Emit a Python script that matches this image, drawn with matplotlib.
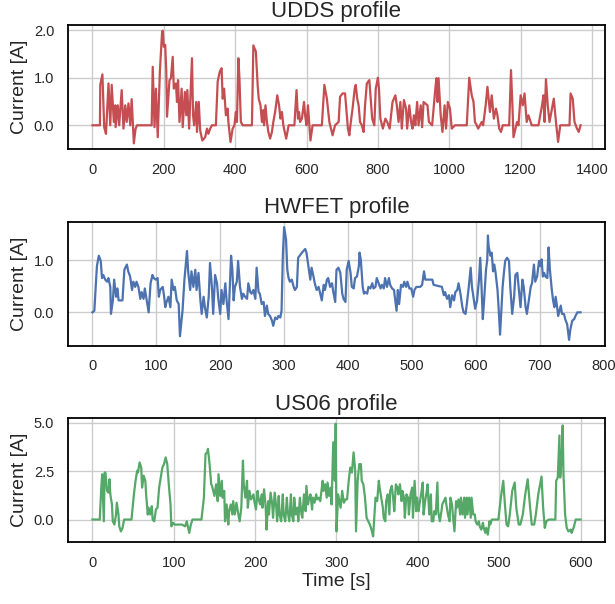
import matplotlib
matplotlib.use('Agg')
import matplotlib.pyplot as plt
from matplotlib.ticker import FormatStrFormatter, MultipleLocator

# UDDS profile: time [s] and current [A]
udds_t = [
    0, 21, 22, 28, 33, 38, 45, 50, 54, 60, 64, 65, 71, 75, 82, 87, 92, 96,
    101, 106, 110, 116, 121, 125, 166, 169, 174, 178, 183, 189, 195, 197,
    200, 204, 207, 209, 216, 220, 225, 228, 234, 237, 240, 244, 250, 253,
    259, 263, 266, 271, 279, 282, 285, 291, 293, 298, 302, 308, 316, 321,
    325, 330, 335, 346, 351, 357, 362, 365, 369, 374, 379, 381, 387, 393,
    398, 402, 405, 409, 412, 416, 421, 447, 451, 458, 463, 466, 471, 475,
    479, 481, 485, 489, 493, 498, 503, 507, 512, 518, 523, 527, 531, 535,
    543, 550, 566, 572, 576, 579, 582, 587, 593, 596, 600, 604, 611, 617,
    643, 650, 657, 664, 673, 680, 690, 694, 701, 708, 716, 720, 723, 729,
    735, 738, 742, 746, 750, 755, 760, 764, 769, 776, 780, 784, 790, 794,
    800, 803, 807, 814, 821, 826, 833, 841, 849, 853, 858, 863, 867, 873,
    879, 882, 888, 893, 897, 901, 905, 910, 914, 920, 924, 928, 939, 943,
    952, 961, 964, 967, 970, 976, 981, 987, 991, 996, 1002, 1007, 1016,
    1049, 1056, 1063, 1068, 1072, 1077, 1081, 1091, 1095, 1102, 1107, 1114,
    1119, 1125, 1131, 1135, 1140, 1145, 1150, 1168, 1173, 1177, 1180, 1190,
    1194, 1200, 1206, 1211, 1217, 1222, 1231, 1250, 1260, 1264, 1267, 1271,
    1276, 1281, 1288, 1293, 1299, 1305, 1311, 1337, 1340, 1346, 1351, 1358,
    1363, 1368,
]
udds_i = [
    0, 0, 0.85, 1.07, -0.04, -0.18, 0.88, 0.0, 0.85, 0.07, 0.42, -0.04, 0.42,
    0.0, 0.74, -0.07, 0.42, 0.07, 0.46, 0.0, 0.55, -0.38, -0.07, 0.0, 0.0,
    1.23, -0.04, 0.77, -0.25, 1.13, 1.94, 1.99, 1.65, 1.69, 1.13, 0.18, 0.95,
    0.99, 1.44, 0.77, 0.88, 0.49, 0.95, 0.07, 0.77, -0.04, 0.70, 0.21, 0.74,
    -0.07, 1.41, 0.21, 0.0, 0.49, -0.14, 0.49, -0.11, -0.32, -0.25, -0.07,
    -0.18, -0.07, 0.0, 0.0, 0.92, 1.13, 1.20, 0.56, 0.77, 0.21, 0.35, 0.07,
    -0.35, -0.07, 0.0, 0.28, 0.07, 1.41, 0.99, 0.07, 0.0, 0.0, 1.68, 1.55,
    0.85, 0.56, 0.42, 0.07, 0.32, 0.0, 0.42, 0.07, -0.14, -0.28, -0.14, 0.07,
    0.28, 0.63, 0.42, 0.14, 0.28, 0.0, -0.28, 0.0, 0.0, 0.74, 0.14, 0.28,
    0.07, 0.14, 0.49, 0.21, 0.0, 0.42, -0.32, 0.0, 0.0, 0.85, 0.56, 0.07,
    -0.21, 0.0, 0.07, 0.60, 0.67, 0.67, -0.07, -0.21, 0.0, 0.35, 0.77, 0.85,
    0.56, 0.42, 0.07, 0.0, -0.14, 0.42, 0.88, 0.95, 0.56, 0.14, 0.0, 0.77,
    1.0, 0.77, 0.14, -0.07, 0.14, 0.07, -0.07, 0.49, 0.63, 0.42, 0.07, 0.49,
    -0.07, 0.53, 0.35, -0.07, 0.42, 0.07, -0.07, 0.21, 0.0, 0.49, 0.0, 0.42,
    -0.04, 0.49, 0.42, 0.07, 0.0, 0.77, 0.99, 0.49, 0.99, 0.21, -0.14, 0.42,
    -0.07, 0.49, 0.35, -0.07, 0.0, 0.0, 1.0, 0.63, 0.49, 0.07, 0.0, -0.07,
    0.07, 0.0, 0.42, 0.81, 0.28, 0.63, 0.14, 0.35, 0.21, -0.07, -0.14, 0.0,
    0.0, 1.16, 0.42, -0.25, 0.07, 0.0, 0.63, 0.42, 0.67, 0.07, 0.21, 0.0,
    0.0, 0.42, 0.63, 0.07, 0.97, 0.42, 0.07, 0.35, 0.56, 0.07, -0.35, 0.0,
    0.0, 0.67, 0.56, 0.07, -0.07, -0.14, 0.0,
]

# HWFET profile
hwfet_t = [
    0, 3, 7, 10, 13, 15, 17, 20, 23, 25, 28, 29, 32, 34, 37, 39, 41, 47, 50,
    54, 56, 59, 62, 64, 67, 69, 72, 75, 77, 80, 82, 85, 88, 91, 94, 96, 99,
    102, 104, 106, 110, 112, 114, 116, 119, 122, 124, 127, 129, 132, 135,
    137, 141, 144, 148, 150, 153, 155, 158, 161, 163, 166, 169, 171, 174,
    176, 179, 182, 184, 187, 189, 192, 195, 197, 200, 202, 205, 208, 210,
    213, 215, 217, 219, 221, 223, 226, 228, 231, 234, 236, 239, 242, 244,
    247, 249, 252, 255, 257, 260, 262, 265, 268, 270, 273, 275, 278, 281,
    283, 286, 289, 291, 294, 296, 298, 300, 303, 305, 307, 309, 312, 315,
    317, 320, 322, 328, 333, 335, 338, 341, 343, 346, 348, 351, 354, 356,
    359, 362, 364, 367, 369, 372, 375, 377, 380, 382, 385, 388, 391, 393,
    396, 398, 401, 404, 406, 409, 411, 414, 417, 418, 420, 423, 425, 427,
    430, 432, 435, 438, 440, 443, 445, 448, 451, 453, 456, 458, 461, 464,
    466, 469, 472, 474, 476, 478, 480, 483, 486, 488, 491, 493, 496, 499,
    502, 504, 507, 513, 516, 519, 521, 532, 534, 547, 550, 552, 555, 558,
    560, 563, 566, 568, 571, 573, 576, 579, 581, 584, 586, 589, 592, 594,
    597, 599, 602, 605, 607, 609, 611, 613, 616, 618, 619, 620, 623, 625,
    627, 629, 631, 634, 636, 638, 640, 642, 644, 646, 649, 652, 654, 657,
    660, 662, 665, 667, 670, 673, 675, 678, 680, 683, 686, 688, 691, 693,
    696, 699, 701, 703, 705, 707, 709, 712, 714, 716, 719, 721, 723, 725,
    727, 729, 731, 733, 735, 738, 740, 743, 746, 748, 751, 754, 756, 759,
    764,
]
hwfet_i = [
    0, 0.03, 0.89, 1.09, 0.99, 0.66, 0.72, 0.63, 0.59, 0.66, 0.49, -0.03,
    0.23, 0.63, 0.30, 0.46, 0.23, 0.23, 0.82, 0.92, 0.79, 0.69, 0.43, 0.59,
    0.49, 0.59, 0.49, 0.26, 0.39, 0.26, 0.46, 0.23, 0.0, 0.56, 0.72, 0.66,
    0.63, 0.66, 0.30, 0.43, 0.49, 0.33, 0.10, 0.20, 0.30, 0.10, 0.63, 0.43,
    0.49, 0.23, 0.16, -0.46, 0.03, 0.63, 1.18, 0.76, 0.43, 0.79, 0.49, 0.82,
    0.43, 0.76, 0.23, -0.03, 0.30, 0.10, -0.10, 0.30, 0.95, 0.49, -0.03,
    0.72, 0.56, 0.26, -0.03, 0.43, 0.16, 0.56, 0.23, -0.13, 0.49, 1.09, 0.82,
    0.23, 0.49, 0.59, 0.99, 0.49, 0.26, 0.36, 0.30, 0.26, 0.56, 0.39, 0.36,
    0.43, 0.26, 0.86, 0.39, 0.36, 0.16, 0.20, -0.07, 0.13, -0.03, -0.07,
    -0.16, -0.26, -0.10, -0.13, -0.07, -0.10, 0.03, 1.09, 1.64, 1.41, 0.82,
    0.66, 0.59, 0.63, 0.49, 0.43, 0.49, 1.05, 1.15, 1.22, 1.15, 0.89, 0.63,
    0.86, 0.69, 0.56, 0.43, 0.49, 0.39, 0.23, 0.53, 0.43, 0.63, 0.66, 0.49,
    0.56, 0.39, 0.20, 0.82, 0.86, 0.76, 0.36, 0.26, 0.20, 0.82, 0.99, 0.76,
    0.49, 0.46, 0.66, 0.69, 0.89, 1.15, 1.02, 0.49, 0.36, 0.39, 0.36, 0.49,
    0.46, 0.56, 0.46, 0.49, 0.66, 0.56, 0.46, 0.53, 0.46, 0.66, 0.49, 0.66,
    0.53, 0.46, 0.43, 0.23, 0.03, 0.43, 0.16, 0.53, 0.49, 0.59, 0.49, 0.59,
    0.46, 0.46, 0.30, 0.43, 0.49, 0.49, 0.53, 0.79, 0.63, 0.63, 0.53, 0.49,
    0.33, 0.39, 0.26, 0.33, 0.10, 0.33, 0.23, 0.39, 0.43, 0.56, 0.36, 0.10,
    0.0, -0.03, 0.16, 0.49, 0.86, 0.49, 0.23, 0.07, 0.23, 0.63, 1.05, 0.49,
    -0.13, 0.23, 0.82, 1.02, 1.48, 1.28, 1.09, 1.15, 0.79, 0.92, 0.76, 0.43,
    0.03, -0.43, 0.03, 0.49, 0.76, 0.99, 1.05, 0.99, 0.49, -0.03, 0.30, 0.72,
    0.76, 0.49, 0.10, 0.63, 0.49, 0.10, -0.03, 0.23, 0.49, 0.56, 0.92, 0.59,
    0.69, 0.99, 0.89, 1.02, 0.69, 0.76, 0.69, 0.66, 1.25, 0.82, 0.43, 0.23,
    0.10, 0.30, 0.13, -0.07, 0.03, 0.13, -0.03, -0.03, -0.13, -0.23, -0.53,
    -0.33, -0.16, -0.13, -0.07, 0.0, 0.0,
]

# US06 profile
us06_t = [
    0, 9, 11, 12, 14, 15, 16, 18, 20, 21, 22, 24, 25, 27, 29, 30, 32, 33, 35,
    37, 39, 48, 51, 53, 55, 56, 58, 60, 61, 63, 65, 66, 68, 69, 71, 73, 74,
    76, 78, 80, 82, 84, 86, 88, 90, 92, 94, 96, 97, 99, 101, 110, 114, 116,
    119, 121, 123, 134, 137, 139, 141, 142, 144, 146, 147, 149, 150, 152,
    154, 155, 157, 159, 160, 162, 163, 165, 167, 168, 170, 172, 173, 175,
    177, 179, 181, 183, 185, 186, 188, 190, 191, 193, 195, 196, 198, 199,
    201, 203, 204, 206, 208, 209, 211, 213, 214, 216, 217, 219, 221, 222,
    224, 226, 227, 229, 230, 232, 234, 235, 237, 239, 240, 242, 244, 245,
    247, 248, 250, 252, 253, 255, 257, 258, 260, 262, 263, 265, 266, 268,
    270, 271, 273, 275, 276, 278, 280, 281, 283, 284, 286, 288, 289, 291,
    293, 294, 296, 298, 299, 300, 302, 305, 307, 309, 311, 313, 315, 317,
    319, 321, 323, 324, 326, 328, 330, 331, 333, 335, 337, 339, 341, 343,
    345, 347, 348, 350, 352, 353, 355, 357, 358, 360, 361, 363, 365, 366,
    368, 370, 371, 373, 375, 376, 378, 380, 381, 383, 384, 386, 388, 389,
    391, 393, 394, 396, 398, 399, 401, 402, 404, 406, 407, 409, 411, 412,
    414, 416, 417, 419, 420, 422, 424, 425, 427, 429, 430, 432, 434, 435,
    437, 439, 440, 442, 443, 445, 447, 448, 450, 452, 453, 455, 457, 458,
    460, 461, 463, 465, 466, 468, 470, 471, 473, 475, 476, 478, 480, 481,
    483, 484, 486, 488, 489, 491, 499, 502, 505, 507, 509, 511, 513, 516,
    519, 521, 524, 526, 529, 532, 535, 538, 540, 543, 545, 548, 552, 554,
    556, 558, 561, 569, 570, 572, 574, 575, 577, 578, 579, 581, 583, 585,
    588, 589, 592, 594, 600,
]
us06_i = [
    0, 0, 1.74, 2.34, -0.09, 2.43, 2.43, 1.48, 1.39, 2.08, 1.30, 0.78, -0.09,
    -0.26, 0.26, 0.87, 0.26, -0.35, -0.61, -0.43, 0, 0, 1.30, 2.0, 2.52,
    2.43, 2.95, 2.69, 1.65, 2.26, 2.0, 1.30, 0.26, 0.61, 0.26, 0.69, 0,
    -0.09, 0.52, 0.61, 1.65, 2.17, 2.69, 2.86, 3.21, 2.86, 1.74, 0.78, -0.35,
    -0.17, -0.26, -0.26, -0.35, -0.09, -0.69, -0.26, 0, 0, 1.13, 3.39, 3.47,
    3.65, 2.86, 1.82, 1.74, 1.39, 1.22, 1.82, 0.95, 2.34, 1.22, 2.0, 1.13,
    1.48, -0.09, 0.78, -0.26, 0.43, 0.78, 0.26, 0.95, 0.26, 0.87, 0.35,
    -0.09, 0.61, 3.04, 1.82, 1.13, 2.0, 0.61, 1.48, 1.04, 1.13, 1.30, 0.95,
    0.52, 1.48, 1.13, 0.78, 1.30, 0.61, 1.56, 0.61, -0.52, 0.95, 0.26, 1.39,
    0.78, 0.09, 1.39, 0.61, -0.09, 1.22, 0.26, -0.09, 1.30, 0.26, -0.09,
    1.13, 0.43, -0.09, 1.30, 0.26, -0.09, 1.13, 0.26, 0.61, -0.09, 1.13,
    0.26, 0.09, 1.30, 0.43, 1.74, 0.78, 1.04, 1.30, 0.52, 1.13, 0.87, 1.30,
    1.04, 1.13, 0.95, 1.30, 2.0, 1.48, 1.82, 1.13, 1.91, 1.22, 1.65, 0.78,
    3.99, 2.0, 4.95, -0.61, 1.30, 0.61, 1.48, 0.87, 1.04, 1.04, 2.0, 2.69,
    2.43, 3.47, 2.52, -0.61, 2.0, 2.86, 2.86, 2.0, 1.82, 1.13, 0.09, -0.09,
    -0.26, -0.52, -0.87, 0.43, 1.13, 0.95, 2.0, 1.65, 1.13, 0.61, 0.09,
    -0.09, 0.95, 1.30, 0.26, 1.48, 1.74, 0.95, 0.43, 1.82, 1.65, 1.30, 1.82,
    0.95, 1.48, 1.13, 0.09, 1.30, 1.13, 0.26, 1.30, 1.65, 0.09, 2.0, 0.43,
    1.13, 0.43, 0.78, 1.30, 1.91, 0.26, 0.95, 1.48, 1.82, 0.26, 1.30, -0.09,
    -0.09, 0.43, 0.26, 1.91, 0.43, -0.09, 0.43, 0.78, 0.95, 1.13, 0.78, 0.26,
    -0.09, 1.13, 0.78, 0.26, -0.61, 0.95, 0.61, 1.04, 0.26, 1.13, 0.26, 1.13,
    0.09, 1.13, 0.26, 1.13, 0.09, 1.13, 0.26, 0.26, -0.09, -0.26, -0.09,
    -0.35, -0.52, -0.17, -0.43, -0.69, -0.43, -0.78, -0.09, -0.26, 0, 0,
    1.13, 2.0, 0.78, -0.26, -0.35, 0.26, 1.48, 1.91, 0.61, -0.26, -0.26,
    0.26, 1.30, 2.08, 0.61, -0.26, -0.26, 0.26, 1.30, 2.22, 0.61, -0.43,
    -0.09, 0, 0, 2.0, 2.17, 4.34, 2.17, 3.39, 4.86, 2.34, 0.26, -0.43, -0.61,
    -0.52, -0.69, -0.35, 0, 0,
]

TEXT = '#262626'

plt.rcParams.update({
    'font.family': ['Liberation Sans', 'DejaVu Sans'],
    'text.color': TEXT,
    'axes.labelcolor': TEXT,
    'xtick.color': TEXT,
    'ytick.color': TEXT,
    'axes.edgecolor': 'black',
    'axes.linewidth': 1.3,
    'xtick.major.size': 0,
    'ytick.major.size': 0,
    'xtick.major.pad': 10,
    'ytick.major.pad': 10,
    'xtick.labelsize': 10.5,
    'ytick.labelsize': 10.5,
    'axes.labelsize': 14,
    'axes.titlesize': 16,
})


def _panel(ax, t, i, color, title, xstep, ystep):
    ax.plot(t, i, color=color, lw=1.6)
    ax.set_title(title, pad=6)
    ax.set_ylabel('Current [A]')
    ax.xaxis.set_major_locator(MultipleLocator(xstep))
    ax.yaxis.set_major_locator(MultipleLocator(ystep))
    ax.yaxis.set_major_formatter(FormatStrFormatter('%.1f'))
    ax.grid(color='#cccccc', lw=1.0)
    ax.set_axisbelow(True)


def plot():
    fig, axes = plt.subplots(3, 1, figsize=(6.15, 6.04), dpi=100)
    fig.subplots_adjust(left=0.1106, right=0.9837, top=0.9586,
                        bottom=0.1026, hspace=0.585)

    _panel(axes[0], udds_t, udds_i, '#C44E52', 'UDDS profile', 200, 1.0)
    _panel(axes[1], hwfet_t, hwfet_i, '#4C72B0', 'HWFET profile', 100, 1.0)
    _panel(axes[2], us06_t, us06_i, '#55A868', 'US06 profile', 100, 2.5)
    axes[2].set_xlabel('Time [s]', labelpad=2)

    fig.align_ylabels(axes)
    fig.savefig('out.png', dpi=100)


if __name__ == '__main__':
    plot()
